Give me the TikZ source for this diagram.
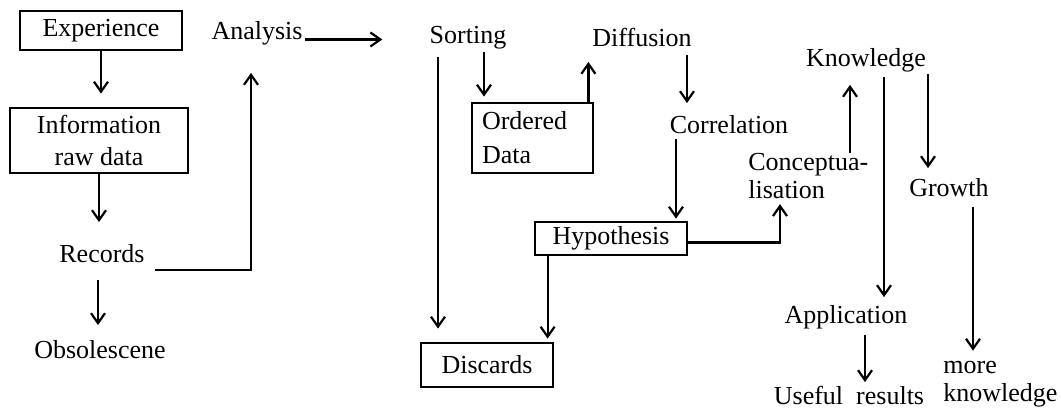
\documentclass[tikz,border=0pt]{standalone}
\usepackage{fontspec}
\setmainfont{Liberation Serif}
\usetikzlibrary{arrows.meta}

\begin{document}
\begin{tikzpicture}[x=0.5pt,y=-0.5pt,>={Straight Barb[length=5pt,width=7pt]},
	every node/.style={font=\fontsize{13}{16}\selectfont},
	box/.style={draw,line width=1.4pt,inner sep=0pt},
	word/.style={inner sep=0pt,text height=9pt,text depth=2.5pt},
	flow/.style={->,line width=1.1pt}]
	\useasboundingbox (0,0) rectangle (1061,416);
	% left column
	\node[box,minimum width=81pt,minimum height=19.5pt] (exp)  at (101,30.5) {Experience};
	\node[box,minimum width=89pt,minimum height=32.5pt,align=center] (info) at (99,140.5) {Information\\raw data};
	\node[word] (rec)  at (102,256) {Records};
	\node[word] (obs)  at (100,352) {Obsolescene};
	\node[word] (ana)  at (257,33)  {Analysis};
	% middle
	\node[word] (sort) at (468,37)  {Sorting};
	\node[box,inner xsep=5pt,text width=50.5pt,minimum height=35pt,align=left,
	      font=\fontsize{13}{17}\selectfont] (ord) at (532.5,138) {Ordered\\Data};
	\node[word] (diff) at (642,40)  {Diffusion};
	\node[word] (corr) at (729,127) {Correlation};
	\node[box,minimum width=76pt,minimum height=16.5pt] (hyp) at (611,238.5) {Hypothesis};
	\node[box,minimum width=66pt,minimum height=22pt]   (dis) at (487,365)   {Discards};
	% right
	\node[inner sep=0pt,align=left,anchor=west,font=\fontsize{13}{14}\selectfont] (con) at (748,176) {Conceptua-\\lisation};
	\node[word] (know) at (866,60)  {Knowledge};
	\node[word] (gro)  at (949,190) {Growth};
	\node[word] (app)  at (846,317) {Application};
	\node[word] (use)  at (849,398) {Useful\ \ results};
	\node[inner sep=0pt,align=left,anchor=west,font=\fontsize{13}{14}\selectfont] (more) at (943,384) {more\\knowledge};

	\draw[flow,shorten >=6.5pt] (exp.south) -- (exp.south |- info.north);
	\draw[flow,shorten >=11pt] (info.south) -- (info.south |- rec.north);
	\draw[flow,shorten >=14pt] ([shift={(10,14)}]rec.east) -| ([xshift=-3pt]ana.south);
	\draw[flow,shorten <=1pt,shorten >=23.5pt] (ana.base east) -- (ana.base east -| sort.west);
	\draw[flow,shorten <=6pt,shorten >=7.5pt] ([xshift=-2pt]rec.south) -- ([xshift=-2pt]rec.south |- obs.north);
	\draw[flow,shorten <=4pt,shorten >=6.5pt] ([xshift=-15pt]sort.south) -- ([xshift=-15pt]sort.south |- dis.north);
	\draw[flow,shorten <=1.5pt,shorten >=2.5pt] ([xshift=8pt]sort.south) -- ([xshift=8pt]sort.south |- ord.north);
	\draw[flow,shorten >=5pt] ([xshift=-3pt]ord.north east) -- ([xshift=-3pt]ord.north east |- diff.south);
	\draw[flow,shorten <=1.5pt,shorten >=6pt] ([xshift=22.5pt]diff.south) -- ([xshift=22.5pt]diff.south |- corr.north);
	\draw[flow,shorten >=1pt] ([xshift=-26.5pt]corr.south) -- ([xshift=-26.5pt]corr.south |- hyp.north);
	\draw[flow,shorten >=1.5pt] ([xshift=7pt]hyp.south west) -- ([xshift=7pt]hyp.south west |- dis.north);
	\draw[flow,shorten >=2.5pt] ([yshift=-2pt]hyp.east) -| ([xshift=16pt]con.south west);
	\draw[flow,shorten >=6.5pt] ([xshift=51pt]con.north west) -- ([xshift=51pt]con.north west |- know.south);
	\draw[flow,shorten <=2.5pt,shorten >=4pt] ([xshift=9pt]know.south) -- ([xshift=9pt]know.south |- app.north);
	\draw[flow,shorten <=1pt,shorten >=5pt] ([xshift=31pt]know.south) -- ([xshift=31pt]know.south |- gro.north);
	\draw[flow,shorten <=2.5pt,shorten >=5pt] ([xshift=12pt]gro.south) -- ([xshift=12pt]gro.south |- more.north);
	\draw[flow,shorten <=3pt,shorten >=2pt] ([xshift=9.5pt]app.south) -- ([xshift=9.5pt]app.south |- use.north);
\end{tikzpicture}
\end{document}
